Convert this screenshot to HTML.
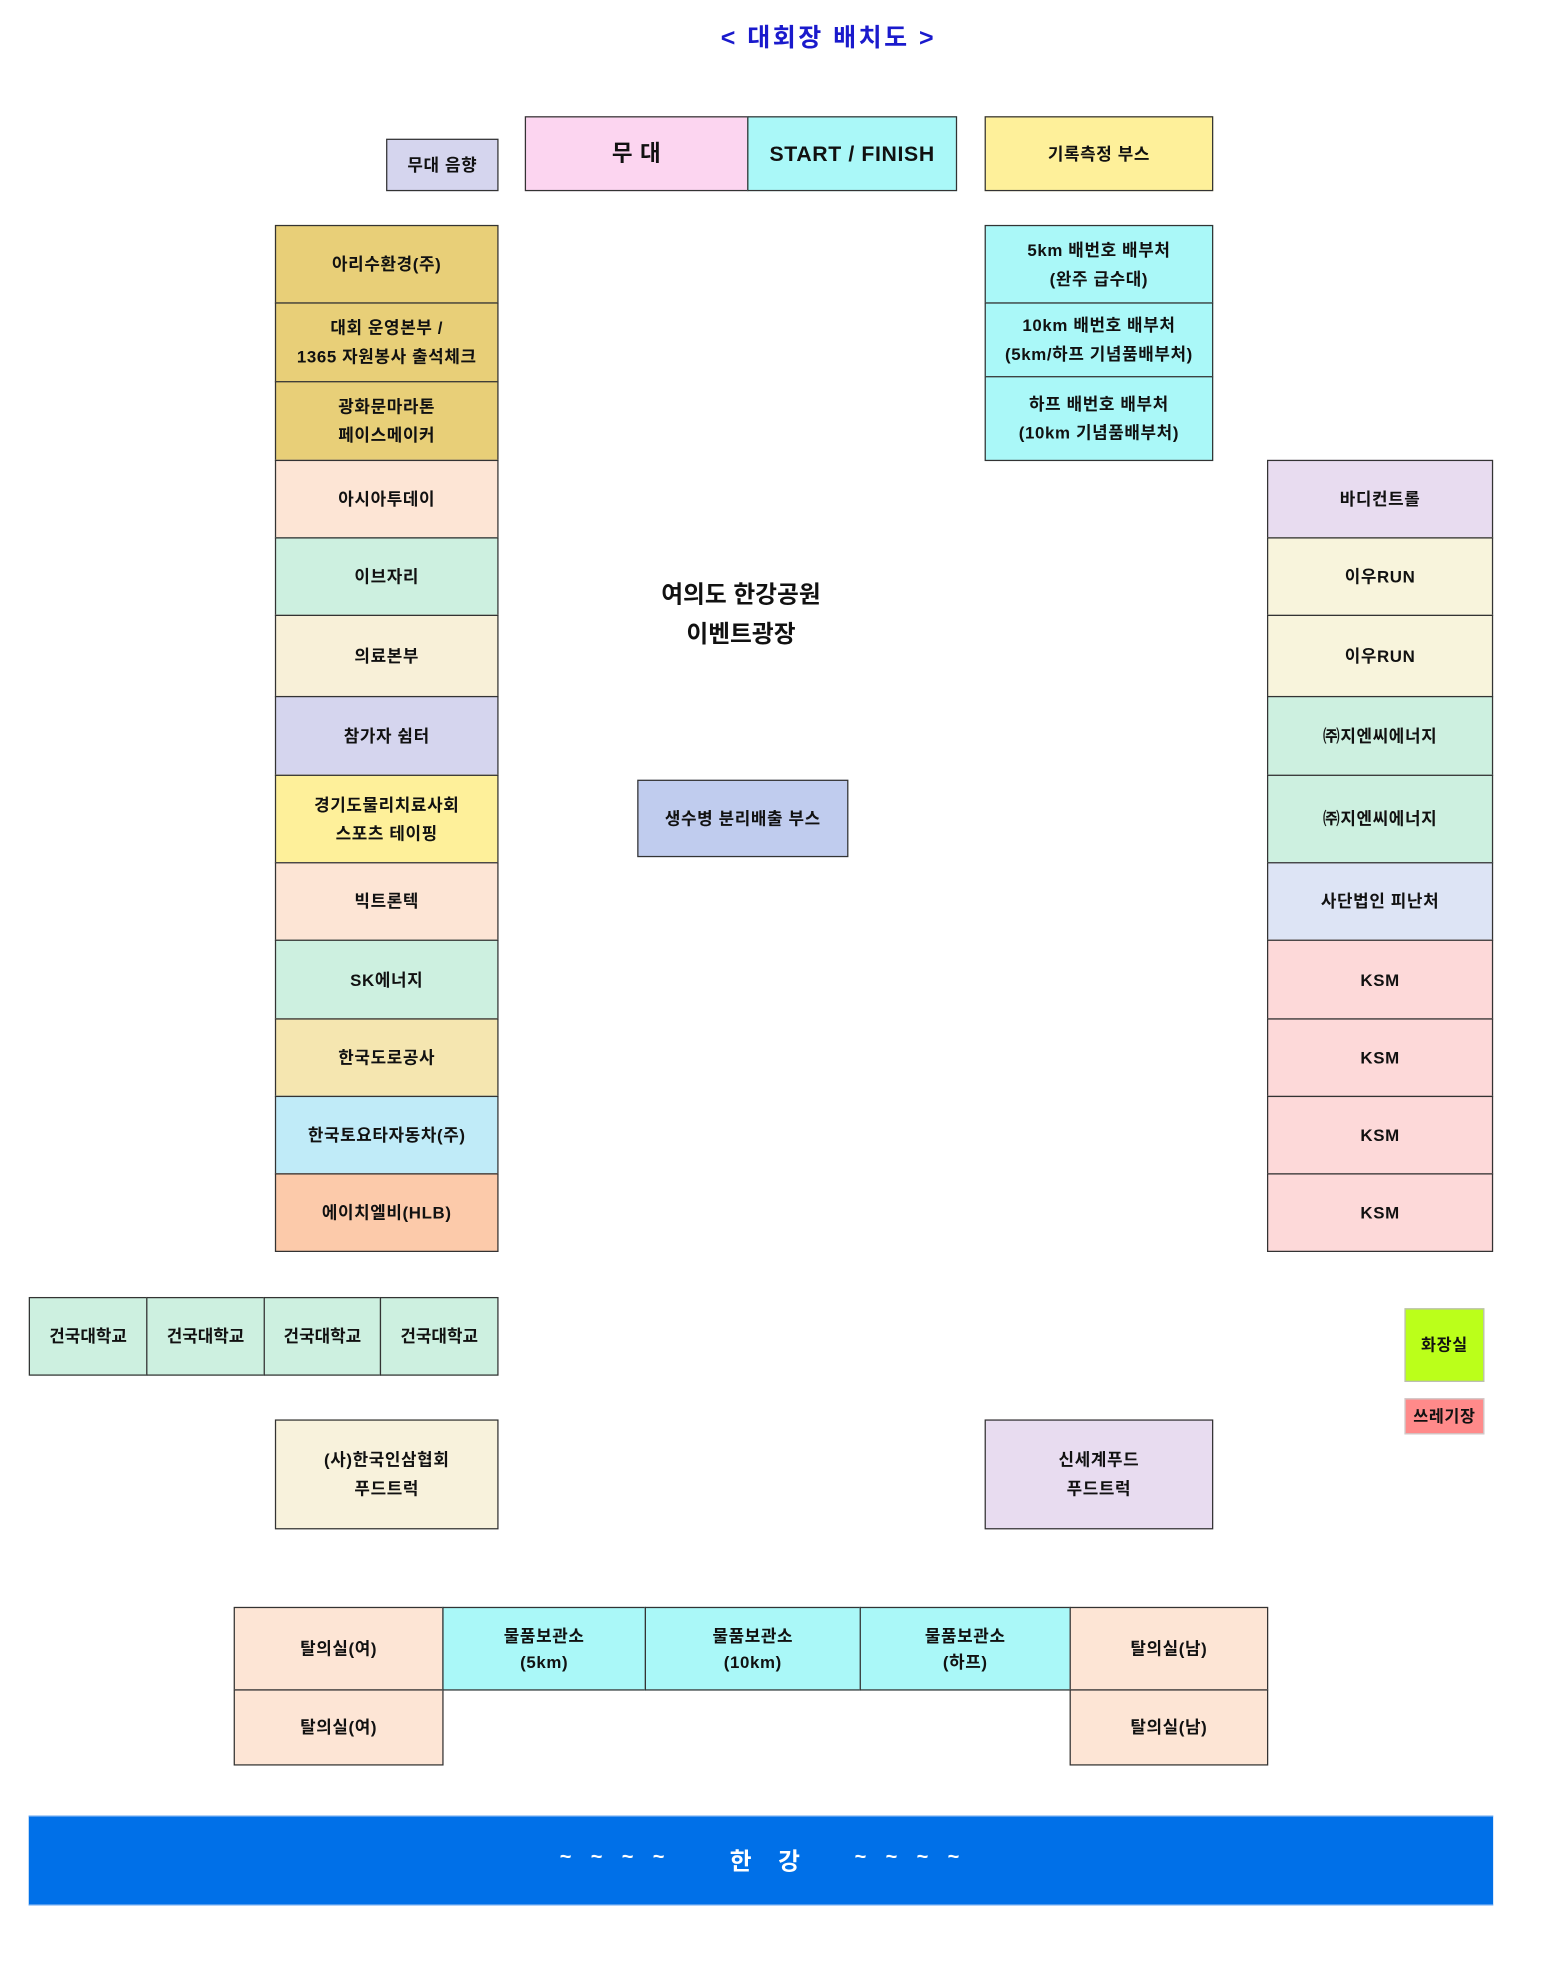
<!DOCTYPE html>
<html><head><meta charset="utf-8"><style>
html,body{margin:0;padding:0;background:#fff;width:1541px;height:1958px;overflow:hidden}
#c{position:absolute;left:0;top:0;width:1240px;height:1576px;transform:scale(1.2495);transform-origin:0 0;font-family:"Liberation Sans","Noto Sans CJK KR","NanumGothic",sans-serif;font-weight:bold}
.b{position:absolute;box-sizing:border-box;border:1px solid #333;display:flex;align-items:center;justify-content:center;text-align:center;font-size:13.5px;line-height:23px;color:#111;letter-spacing:0.5px}
.t{position:absolute;text-align:center}
</style></head><body><div id="c">
<div class="t" style="left:0;width:1326px;top:14px;font-size:20px;color:#1a1acc;letter-spacing:2px">&lt; 대회장 배치도 &gt;</div>

<div class="b" style="left:309px;top:111px;width:90px;height:42px;background:#d5d5ee">무대 음향</div>
<div class="b" style="left:420px;top:93px;width:179px;height:60px;background:#fcd5f0;font-size:18px">무 대</div>
<div class="b" style="left:598px;top:93px;width:168px;height:60px;background:#aaf8f8;font-size:17px">START / FINISH</div>
<div class="b" style="left:788px;top:93px;width:183px;height:60px;background:#fef09a">기록측정 부스</div>

<div class="b" style="left:220px;top:180px;width:179px;height:63px;background:#e8cf78">아리수환경(주)</div>
<div class="b" style="left:220px;top:242px;width:179px;height:64px;background:#e8cf78">대회 운영본부 /<br>1365 자원봉사 출석체크</div>
<div class="b" style="left:220px;top:305px;width:179px;height:64px;background:#e8cf78">광화문마라톤<br>페이스메이커</div>
<div class="b" style="left:220px;top:368px;width:179px;height:63px;background:#fde5d5">아시아투데이</div>
<div class="b" style="left:220px;top:430px;width:179px;height:63px;background:#cdf0e0">이브자리</div>
<div class="b" style="left:220px;top:492px;width:179px;height:66px;background:#f8f0d8">의료본부</div>
<div class="b" style="left:220px;top:557px;width:179px;height:64px;background:#d5d5ee">참가자 쉼터</div>
<div class="b" style="left:220px;top:620px;width:179px;height:71px;background:#fef09a">경기도물리치료사회<br>스포츠 테이핑</div>
<div class="b" style="left:220px;top:690px;width:179px;height:63px;background:#fde5d5">빅트론텍</div>
<div class="b" style="left:220px;top:752px;width:179px;height:64px;background:#cdf0e0">SK에너지</div>
<div class="b" style="left:220px;top:815px;width:179px;height:63px;background:#f5e6b0">한국도로공사</div>
<div class="b" style="left:220px;top:877px;width:179px;height:63px;background:#c0ebf8">한국토요타자동차(주)</div>
<div class="b" style="left:220px;top:939px;width:179px;height:63px;background:#fccaaa">에이치엘비(HLB)</div>

<div class="b" style="left:788px;top:180px;width:183px;height:63px;background:#aaf8f8">5km 배번호 배부처<br>(완주 급수대)</div>
<div class="b" style="left:788px;top:242px;width:183px;height:60px;background:#aaf8f8">10km 배번호 배부처<br>(5km/하프 기념품배부처)</div>
<div class="b" style="left:788px;top:301px;width:183px;height:68px;background:#aaf8f8">하프 배번호 배부처<br>(10km 기념품배부처)</div>

<div class="b" style="left:1014px;top:368px;width:181px;height:63px;background:#e8dcf0">바디컨트롤</div>
<div class="b" style="left:1014px;top:430px;width:181px;height:63px;background:#f8f4dc">이우RUN</div>
<div class="b" style="left:1014px;top:492px;width:181px;height:66px;background:#f8f4dc">이우RUN</div>
<div class="b" style="left:1014px;top:557px;width:181px;height:64px;background:#cdf0e0">㈜지엔씨에너지</div>
<div class="b" style="left:1014px;top:620px;width:181px;height:71px;background:#cdf0e0">㈜지엔씨에너지</div>
<div class="b" style="left:1014px;top:690px;width:181px;height:63px;background:#dde4f5">사단법인 피난처</div>
<div class="b" style="left:1014px;top:752px;width:181px;height:64px;background:#fdd9d9">KSM</div>
<div class="b" style="left:1014px;top:815px;width:181px;height:63px;background:#fdd9d9">KSM</div>
<div class="b" style="left:1014px;top:877px;width:181px;height:63px;background:#fdd9d9">KSM</div>
<div class="b" style="left:1014px;top:939px;width:181px;height:63px;background:#fdd9d9">KSM</div>

<div class="t" style="left:493px;width:200px;top:461px;font-size:19px;line-height:32px;color:#111">여의도 한강공원<br>이벤트광장</div>
<div class="b" style="left:510px;top:624px;width:169px;height:62px;background:#c0ccee">생수병 분리배출 부스</div>

<div class="b" style="left:23px;top:1038px;width:95px;height:63px;background:#cdf0e0;letter-spacing:0">건국대학교</div>
<div class="b" style="left:117px;top:1038px;width:95px;height:63px;background:#cdf0e0;letter-spacing:0">건국대학교</div>
<div class="b" style="left:211px;top:1038px;width:94px;height:63px;background:#cdf0e0;letter-spacing:0">건국대학교</div>
<div class="b" style="left:304px;top:1038px;width:95px;height:63px;background:#cdf0e0;letter-spacing:0">건국대학교</div>

<div class="b" style="left:1124px;top:1047px;width:64px;height:59px;background:#bbff1a;border-color:#bbb;font-size:13px">화장실</div>
<div class="b" style="left:1124px;top:1119px;width:64px;height:29px;background:#ff8a8a;border-color:#ccc;font-size:13px">쓰레기장</div>

<div class="b" style="left:220px;top:1136px;width:179px;height:88px;background:#f8f2dc">(사)한국인삼협회<br>푸드트럭</div>
<div class="b" style="left:788px;top:1136px;width:183px;height:88px;background:#e8dcf0">신세계푸드<br>푸드트럭</div>

<div class="b" style="left:187px;top:1286px;width:168px;height:67px;background:#fde5d5">탈의실(여)</div>
<div class="b" style="left:187px;top:1352px;width:168px;height:61px;background:#fde5d5">탈의실(여)</div>
<div class="b" style="left:354px;top:1286px;width:163px;height:67px;background:#aaf8f8;line-height:21px">물품보관소<br>(5km)</div>
<div class="b" style="left:516px;top:1286px;width:173px;height:67px;background:#aaf8f8;line-height:21px">물품보관소<br>(10km)</div>
<div class="b" style="left:688px;top:1286px;width:169px;height:67px;background:#aaf8f8;line-height:21px">물품보관소<br>(하프)</div>
<div class="b" style="left:856px;top:1286px;width:159px;height:67px;background:#fde5d5">탈의실(남)</div>
<div class="b" style="left:856px;top:1352px;width:159px;height:61px;background:#fde5d5">탈의실(남)</div>

<div class="b" style="left:23px;top:1453px;width:1172px;height:72px;background:#0070e8;border:none;border-top:1px solid #6aa8f0;border-bottom:1px solid #6aa8f0;color:#fff;font-size:19px"></div>
<div class="t" style="left:448px;top:1478px;font-size:16px;color:#fff;word-spacing:11px">~ ~ ~ ~</div>
<div class="t" style="left:584px;top:1475px;font-size:19px;color:#fff;letter-spacing:8px">한 강</div>
<div class="t" style="left:684px;top:1478px;font-size:16px;color:#fff;word-spacing:11px">~ ~ ~ ~</div>
</div></body></html>
